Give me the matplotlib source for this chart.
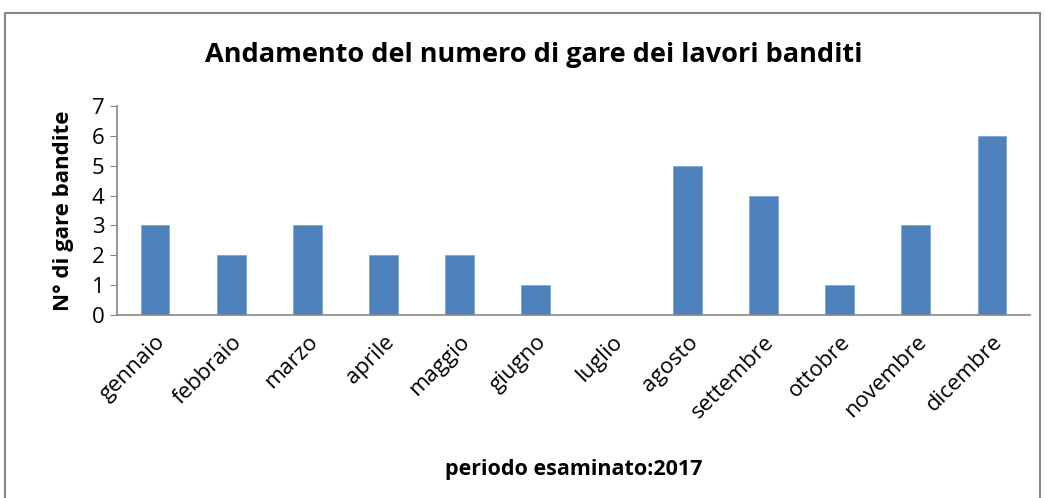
import matplotlib
matplotlib.use("Agg")
import matplotlib.pyplot as plt
from matplotlib.patches import Rectangle

months = ["gennaio", "febbraio", "marzo", "aprile", "maggio", "giugno",
          "luglio", "agosto", "settembre", "ottobre", "novembre", "dicembre"]
values = [3, 2, 3, 2, 2, 1, 0, 5, 4, 1, 3, 6]
yticks = [0, 1, 2, 3, 4, 5, 6, 7]

plt.rcParams['font.family'] = ['Open Sans', 'DejaVu Sans']

fig = plt.figure(figsize=(10.46, 4.98), dpi=100)
fig.patches.append(Rectangle((5/1046, -0.01), 1035/1046, (498-13)/498 + 0.01,
                             transform=fig.transFigure, fill=False,
                             edgecolor='#868686', linewidth=1.5))
ax = fig.add_axes([117/1046, 183/498, 913/1046, 209/498])
x = list(range(len(months)))
ax.bar(x, values, width=0.38, color='#4F81BD', edgecolor='#7FA6D6', linewidth=0.6, zorder=2)
ax.set_xlim(-0.5, 11.5)
ax.set_ylim(0, 7)
ax.set_yticks(yticks)
ax.set_yticklabels([str(v) for v in yticks], fontsize=16)
ax.set_xticks(x)
ax.set_xticklabels(months, rotation=45, ha='right', rotation_mode='anchor', fontsize=16)
ax.tick_params(axis='x', length=0, pad=12)
ax.tick_params(axis='y', length=5, color='#868686', direction='out', pad=4)
for s in ['top', 'right']:
    ax.spines[s].set_visible(False)
for s in ['left', 'bottom']:
    ax.spines[s].set_color('#868686')
    ax.spines[s].set_linewidth(1.2)
ax.set_ylabel("N° di gare bandite", fontsize=16, fontweight='bold', labelpad=13)
ax.set_xlabel("periodo esaminato:2017", fontsize=15.5, fontweight='bold', labelpad=26)
fig.text(534/1046, 1 - 55/498, "Andamento del numero di gare dei lavori banditi",
         ha='center', va='center', fontsize=19.5, fontweight='bold')
fig.savefig("out.png", dpi=100)
